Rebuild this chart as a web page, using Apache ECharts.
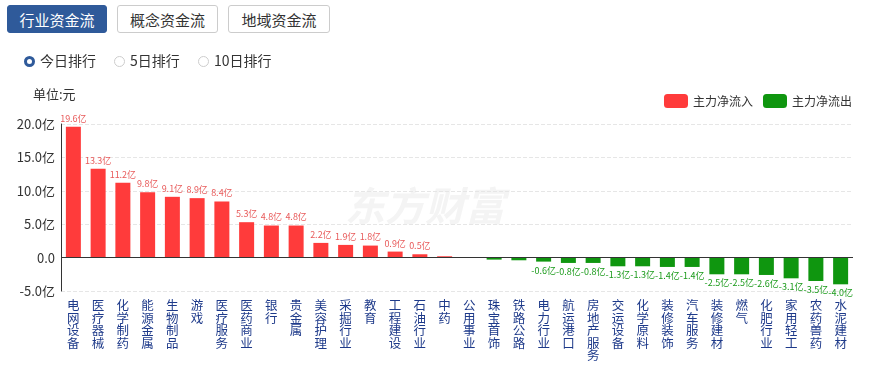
<!DOCTYPE html>
<html>
<head>
<meta charset="utf-8">
<script src="https://cdn.jsdelivr.net/npm/echarts@6/dist/echarts.min.js"></script>
<style>
  body { margin: 0; background: #fff; font-family: "Noto Sans CJK SC", sans-serif; }
  #wrap { position: relative; width: 869px; height: 365px; overflow: hidden; }
  #chart { position: absolute; left: 0; top: 0; width: 869px; height: 365px; }
  .tab { position: absolute; top: 5px; height: 28px; line-height: 28px; text-align: center;
    font-size: 15px; color: #333; border: 1px solid #ccc; border-radius: 3px; box-sizing: border-box; background: #fff; }
  .tab.on { background: #2f5a9a; color: #fff; border-color: #2f5a9a; }
  .radio { position: absolute; top: 51px; font-size: 14px; color: #333; line-height: 18px; }
  .radio i { display: inline-block; width: 11px; height: 11px; border-radius: 50%; border: 1px solid #ccc;
    box-sizing: border-box; vertical-align: -1px; margin-right: 5px; }
  .radio.on i { border: 3.5px solid #2f5a9a; }
</style>
</head>
<body>
<div id="wrap">
  <div id="chart"></div>
  <div class="tab on" style="left:7px;width:100px;">行业资金流</div>
  <div class="tab" style="left:117px;width:101px;">概念资金流</div>
  <div class="tab" style="left:228px;width:102px;">地域资金流</div>
  <div class="radio on" style="left:24px;"><i></i>今日排行</div>
  <div class="radio" style="left:114px;"><i></i>5日排行</div>
  <div class="radio" style="left:198px;"><i></i>10日排行</div>
</div>
<script>
// 行业名称
const categories = ['电网设备', '医疗器械', '化学制药', '能源金属', '生物制品', '游戏', '医疗服务', '医药商业',
  '银行', '贵金属', '美容护理', '采掘行业', '教育', '工程建设', '石油行业', '中药',
  '公用事业', '珠宝首饰', '铁路公路', '电力行业', '航运港口', '房地产服务', '交运设备', '化学原料',
  '装修装饰', '汽车服务', '装修建材', '燃气', '化肥行业', '家用轻工', '农药兽药', '水泥建材'];
// 主力净流入(亿)
const inflow = [19.6, 13.3, 11.2, 9.8, 9.1, 8.9, 8.4, 5.3, 4.8, 4.8, 2.2, 1.9, 1.8, 0.9, 0.5, 0.2,
  '-', '-', '-', '-', '-', '-', '-', '-', '-', '-', '-', '-', '-', '-', '-', '-'];
// 主力净流出(亿)
const outflow = ['-', '-', '-', '-', '-', '-', '-', '-', '-', '-', '-', '-', '-', '-', '-', '-',
  -0.05, -0.3, -0.4, -0.6, -0.8, -0.8, -1.3, -1.3, -1.4, -1.4, -2.5, -2.5, -2.6, -3.1, -3.5, -4.0];
const yTicks = { min: -5, max: 20, interval: 5 };

const labelFmt = p => Math.abs(p.value) >= 0.5 ? p.value.toFixed(1) + '亿' : '';

const myChart = echarts.init(document.getElementById('chart'));
myChart.setOption({
  animation: false,
  textStyle: { fontFamily: 'Noto Sans CJK SC' },
  graphic: [{
    type: 'text', left: 345, top: 186, z: 0,
    style: { text: '东方财富', fontSize: 40, fontWeight: 'bold', fontStyle: 'italic', fill: '#f4f4f4',
      fontFamily: 'Noto Sans CJK SC' }
  }, {
    type: 'text', left: 33, top: 88,
    style: { text: '单位:元', fontSize: 13, fill: '#333', fontFamily: 'Noto Sans CJK SC' }
  }],
  legend: {
    right: 12, top: 89, itemWidth: 24, itemHeight: 14, itemGap: 10,
    textStyle: { fontSize: 12, color: '#333' },
    data: ['主力净流入', '主力净流出']
  },
  grid: { left: 61, right: 16, top: 124, bottom: 74, containLabel: false, outerBoundsMode: 'none' },
  xAxis: {
    type: 'category', data: categories,
    axisLine: { show: false, onZero: false },
    axisTick: { show: false },
    axisLabel: {
      interval: 0, margin: 8, color: '#1e3a8a', fontSize: 12.5, lineHeight: 12.5, verticalAlign: 'top',
      formatter: v => v.split('').join('\n')
    }
  },
  yAxis: {
    type: 'value', min: yTicks.min, max: yTicks.max, interval: yTicks.interval,
    axisLine: { show: true, lineStyle: { color: '#333' } },
    axisTick: { show: false },
    axisLabel: { color: '#333', fontSize: 13, margin: 6,
      formatter: v => v === 0 ? '0.0' : v.toFixed(1) + '亿' },
    splitLine: { lineStyle: { type: 'dashed', color: '#e6e6e6' } }
  },
  series: [{
    name: '主力净流入', type: 'bar', stack: 'a', barWidth: 15,
    itemStyle: { color: '#ff3b3b' },
    label: { show: true, position: 'top', fontSize: 9, color: '#e85a5a', distance: 4, formatter: labelFmt },
    data: inflow,
    markLine: {
      silent: true, symbol: 'none', label: { show: false },
      lineStyle: { color: '#333', type: 'solid', width: 1 },
      data: [{ yAxis: 0 }]
    }
  }, {
    name: '主力净流出', type: 'bar', stack: 'a', barWidth: 15,
    itemStyle: { color: '#0f960f' },
    label: { show: true, position: 'bottom', fontSize: 9, color: '#1a9a1a', distance: 4, formatter: labelFmt },
    data: outflow
  }]
});
</script>
</body>
</html>
